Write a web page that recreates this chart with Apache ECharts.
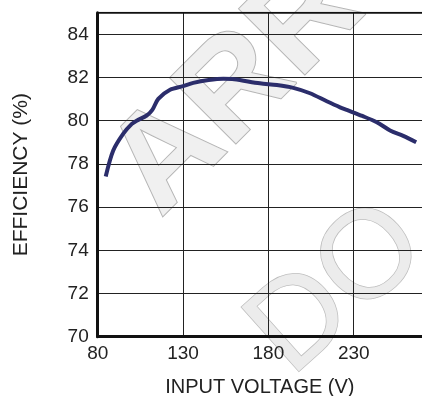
<!DOCTYPE html>
<html><head><meta charset="utf-8">
<script src="https://cdn.jsdelivr.net/npm/echarts@6/dist/echarts.min.js"></script>
<style>html,body{margin:0;padding:0;background:#fff}#c{width:422px;height:396px}</style>
</head><body><div id="c"></div>
<script>
const voltage = [84.7, 89.1, 95, 100, 102.8, 108.7, 112, 115.5, 122.4, 130, 136, 145, 153.6, 160, 175, 185, 194.6, 204.4, 214.2, 222, 225.9, 235, 243.5, 251.3, 259, 266.6];
const efficiency = [77.42, 78.62, 79.4, 79.85, 80.0, 80.24, 80.5, 81.01, 81.43, 81.6, 81.75, 81.88, 81.94, 81.92, 81.73, 81.65, 81.52, 81.27, 80.9, 80.62, 80.5, 80.22, 79.93, 79.55, 79.3, 79.0];
const xTicks = [80, 130, 180, 230];
const yTicks = [70, 72, 74, 76, 78, 80, 82, 84];
const xTitle = 'INPUT VOLTAGE (V)';
const yTitle = 'EFFICIENCY (%)';

const chart = echarts.init(document.getElementById('c'), null, {renderer: 'canvas'});
const font = 'Liberation Sans, Arial, sans-serif';
chart.setOption({
  animation: false,
  backgroundColor: '#fff',
  graphic: [
    {type: 'text', x: 182, y: 240, rotation: Math.PI / 4, z: -10, silent: true,
     style: {text: 'ARROW', font: 'bold 135px ' + font, fill: '#f0f0f0', stroke: '#b5b5b5', lineWidth: 2, textAlign: 'left', textVerticalAlign: 'bottom'}},
    {type: 'text', x: 310, y: 399, rotation: 0.73, z: -10, silent: true,
     style: {text: 'DO', font: '125px ' + font, fill: '#ececec', stroke: '#bdbdbd', lineWidth: 1.5, textAlign: 'left', textVerticalAlign: 'bottom'}}
  ],
  grid: {left: 97.7, right: 0, top: 12.7, bottom: 59.3, containLabel: false, outerBoundsMode: 'none'},
  xAxis: {
    type: 'value', min: 80, max: 270, interval: 50,
    axisLine: {show: true, lineStyle: {color: '#111', width: 3}},
    axisTick: {show: false},
    splitLine: {show: true, lineStyle: {color: '#222', width: 1}},
    axisLabel: {color: '#222', fontSize: 19, fontFamily: font, margin: 8,
      formatter: v => xTicks.includes(v) ? String(v) : ''},
    name: xTitle, nameLocation: 'middle', nameGap: 41,
    nameTextStyle: {color: '#222', fontSize: 20, fontFamily: font}
  },
  yAxis: {
    type: 'value', min: 70, max: 85, interval: 2,
    axisLine: {show: true, lineStyle: {color: '#111', width: 3}},
    axisTick: {show: false},
    splitLine: {show: true, lineStyle: {color: '#222', width: 1}},
    axisLabel: {color: '#222', fontSize: 19, fontFamily: font, margin: 9,
      formatter: v => yTicks.includes(v) ? String(v) : ''},
    name: yTitle, nameLocation: 'middle', nameGap: 66, nameRotate: 90,
    nameTextStyle: {color: '#222', fontSize: 21, fontFamily: font}
  },
  series: [{
    type: 'line', data: voltage.map((v, i) => [v, efficiency[i]]),
    smooth: 0.3, showSymbol: false, z: 5,
    lineStyle: {color: '#2b2d6b', width: 4}
  }, {
    type: 'line', data: [[80, 85], [270, 85]], showSymbol: false, silent: true,
    lineStyle: {color: '#111', width: 2}
  }]
});
</script></body></html>
